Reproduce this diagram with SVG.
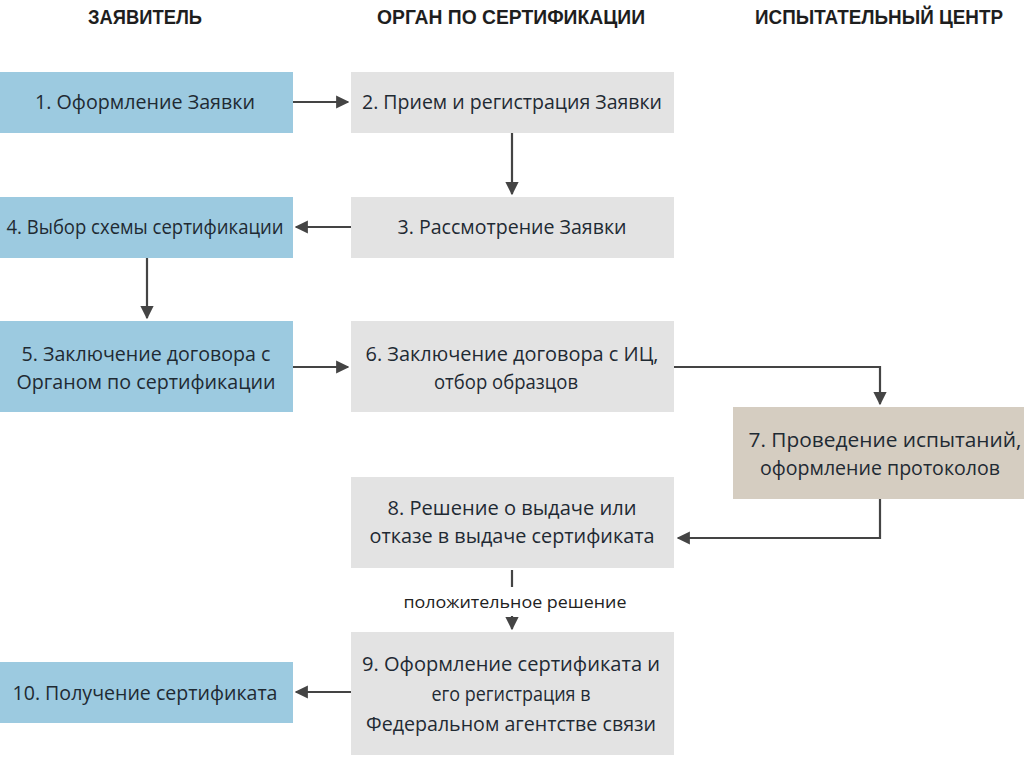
<svg xmlns="http://www.w3.org/2000/svg" width="1024" height="767" viewBox="0 0 1024 767">
<defs>
<style>
.hdr{font-family:"Liberation Sans Narrow","Liberation Sans",sans-serif;font-weight:bold;font-size:20px;fill:#1e1e1e;text-anchor:middle}
.t{font-family:"Open Sans","Liberation Sans",sans-serif;font-size:19.5px;fill:#1f2a33;text-anchor:middle}
.lbl{font-family:"Open Sans","Liberation Sans",sans-serif;font-size:15.5px;fill:#222;text-anchor:middle}
.blue{fill:#9ccae0}
.gray{fill:#e3e3e3}
.tan{fill:#d5cdc1}
.c{fill:none;stroke:#444;stroke-width:2.2}
</style>
<marker id="ah" viewBox="0 0 10 10" refX="9" refY="5" markerWidth="6" markerHeight="6" orient="auto" markerUnits="strokeWidth">
<path d="M0,0 L10,5 L0,10 z" fill="#444"/>
</marker>
</defs>
<rect width="1024" height="767" fill="#fff"/>
<g id="headers">
<text class="hdr" x="145" y="24" textLength="114" lengthAdjust="spacingAndGlyphs">ЗАЯВИТЕЛЬ</text>
<text class="hdr" x="511" y="24" textLength="268" lengthAdjust="spacingAndGlyphs">ОРГАН ПО СЕРТИФИКАЦИИ</text>
<text class="hdr" x="879" y="24" textLength="248" lengthAdjust="spacingAndGlyphs">ИСПЫТАТЕЛЬНЫЙ ЦЕНТР</text>
</g>
<g id="n1"><rect class="blue" x="0" y="72" width="293" height="61"/><text class="t" x="145" y="109" textLength="220" lengthAdjust="spacingAndGlyphs">1. Оформление Заявки</text></g>
<g id="n2"><rect class="gray" x="351" y="72" width="323" height="61"/><text class="t" x="512" y="109" textLength="300" lengthAdjust="spacingAndGlyphs">2. Прием и регистрация Заявки</text></g>
<g id="n3"><rect class="gray" x="351" y="197" width="323" height="61"/><text class="t" x="512" y="234" textLength="229" lengthAdjust="spacingAndGlyphs">3. Рассмотрение Заявки</text></g>
<g id="n4"><rect class="blue" x="0" y="197" width="293" height="61"/><text class="t" x="145" y="234" textLength="277" lengthAdjust="spacingAndGlyphs">4. Выбор схемы сертификации</text></g>
<g id="n5"><rect class="blue" x="0" y="321" width="293" height="91"/><text class="t" x="146" y="361" textLength="249" lengthAdjust="spacingAndGlyphs">5. Заключение договора с</text><text class="t" x="146" y="389" textLength="259" lengthAdjust="spacingAndGlyphs">Органом по сертификации</text></g>
<g id="n6"><rect class="gray" x="351" y="321" width="323" height="91"/><text class="t" x="512" y="361" textLength="293" lengthAdjust="spacingAndGlyphs">6. Заключение договора с ИЦ,</text><text class="t" x="506" y="389" textLength="144" lengthAdjust="spacingAndGlyphs">отбор образцов</text></g>
<g id="n7"><rect class="tan" x="733" y="407" width="291" height="92"/><text class="t" x="885" y="447" textLength="273" lengthAdjust="spacingAndGlyphs">7. Проведение испытаний,</text><text class="t" x="880" y="475" textLength="240" lengthAdjust="spacingAndGlyphs">оформление протоколов</text></g>
<g id="n8"><rect class="gray" x="351" y="477" width="323" height="91"/><text class="t" x="512" y="515" textLength="249" lengthAdjust="spacingAndGlyphs">8. Решение о выдаче или</text><text class="t" x="512" y="543" textLength="285" lengthAdjust="spacingAndGlyphs">отказе в выдаче сертификата</text></g>
<g id="n9"><rect class="gray" x="351" y="632" width="323" height="123"/><text class="t" x="511" y="671" textLength="298" lengthAdjust="spacingAndGlyphs">9. Оформление сертификата и</text><text class="t" x="511" y="701" textLength="159" lengthAdjust="spacingAndGlyphs">его регистрация в</text><text class="t" x="511" y="731" textLength="290" lengthAdjust="spacingAndGlyphs">Федеральном агентстве связи</text></g>
<g id="n10"><rect class="blue" x="0" y="662" width="293" height="61"/><text class="t" x="145" y="700" textLength="265" lengthAdjust="spacingAndGlyphs">10. Получение сертификата</text></g>
<g id="connectors">
<path class="c" d="M293,102 H348" marker-end="url(#ah)"/>
<path class="c" d="M512,133 V194" marker-end="url(#ah)"/>
<path class="c" d="M351,227 H296" marker-end="url(#ah)"/>
<path class="c" d="M147,258 V318" marker-end="url(#ah)"/>
<path class="c" d="M293,367 H348" marker-end="url(#ah)"/>
<path class="c" d="M674,367 H880 V404" marker-end="url(#ah)"/>
<path class="c" d="M880,499 V538 H678" marker-end="url(#ah)"/>
<path class="c" d="M512,570 V587"/>
<path class="c" d="M512,616 V629" marker-end="url(#ah)"/>
<text class="lbl" x="515" y="608" textLength="223" lengthAdjust="spacingAndGlyphs">положительное решение</text>
<path class="c" d="M351,692 H296" marker-end="url(#ah)"/>
</g>
</svg>
